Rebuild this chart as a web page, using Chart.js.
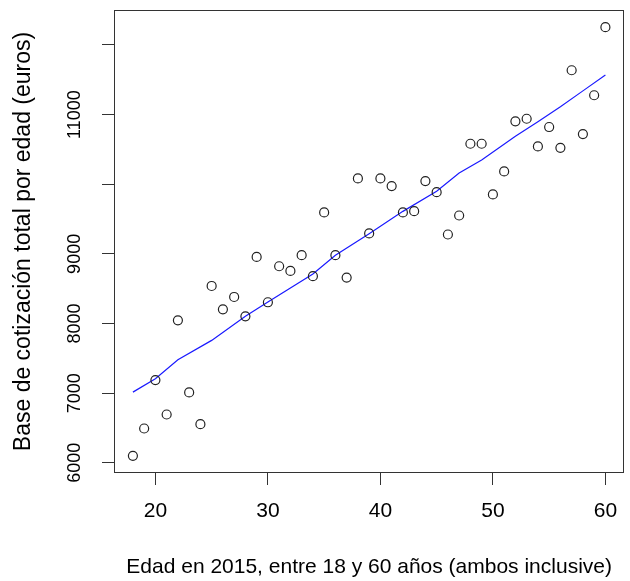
<!DOCTYPE html>
<html>
<head>
<meta charset="utf-8">
<script src="https://cdn.jsdelivr.net/npm/chart.js@4/dist/chart.umd.min.js"></script>
<style>
  html, body { margin: 0; padding: 0; background: #fff; }
  #wrap { width: 630px; height: 581px; }
</style>
</head>
<body>
<div id="wrap"><canvas id="chart"></canvas></div>
<script>
// edades y base de cotización
const ages = [18,19,20,21,22,23,24,25,26,27,28,29,30,31,32,33,34,35,36,37,38,39,
  40,41,42,43,44,45,46,47,48,49,50,51,52,53,54,55,56,57,58,59,60];
const bases = [6100,6493,7188,6694,8046,7011,6555,8539,8204,8381,8104,8956,8305,8822,8755,8981,8679,9595,8981,8660,10083,9293,
  10083,9973,9595,9613,10045,9886,9278,9551,10581,10581,9853,10184,10903,10940,10543,10821,10523,11636,10720,11277,12255];

// curva ajustada (azul)
const fitAges = [18,20,22,25,28,30,34,36,39,42,45,47,49,52,54,56,58,60];
const fitVals = [7015,7208,7480,7758,8104,8309,8710,8981,9290,9610,9900,10160,10347,10690,10897,11113,11340,11569];

const xTicks = [20,30,40,50,60];
const yTicks = [6000,7000,8000,9000,10000,11000,12000];
const yTickLabels = ['6000','7000','8000','9000','','11000',''];

const xTitle = 'Edad en 2015, entre 18 y 60 años (ambos inclusive)';
const yTitle = 'Base de cotización total por edad (euros)';

const FONT = "'Liberation Sans', Arial, sans-serif";

const boxPlugin = {
  id: 'box',
  afterDraw(chart){
    const a = chart.chartArea, ctx = chart.ctx;
    ctx.save();
    ctx.strokeStyle = '#333';
    ctx.lineWidth = 1;
    ctx.strokeRect(Math.round(a.left)+0.5, Math.round(a.top)+0.5,
      Math.round(a.right-a.left)-1, Math.round(a.bottom-a.top)-1);
    ctx.restore();
  }
};

new Chart(document.getElementById('chart'), {
  type: 'scatter',
  data: {
    datasets: [
      {
        type: 'scatter',
        data: ages.map((a,i)=>({x:a, y:bases[i]})),
        pointStyle: 'circle',
        pointRadius: 4.5,
        pointBorderWidth: 1.2,
        pointBorderColor: '#222',
        pointBackgroundColor: 'rgba(0,0,0,0)',
        order: 1
      },
      {
        type: 'line',
        data: fitAges.map((a,i)=>({x:a, y:fitVals[i]})),
        borderColor: '#1a1aff',
        borderWidth: 1.2,
        pointRadius: 0,
        tension: 0,
        fill: false,
        order: 2
      }
    ]
  },
  options: {
    responsive: true,
    maintainAspectRatio: false,
    animation: false,
    layout: { padding: { top: 10, right: 2, left: 0, bottom: 0 } },
    plugins: { legend: { display: false }, tooltip: { enabled: false } },
    scales: {
      x: {
        type: 'linear',
        min: 16.32, max: 61.68,
        afterBuildTicks: s => { s.ticks = xTicks.map(v=>({value:v})); },
        afterFit: s => { s.height = 108; s.paddingLeft = 0; s.paddingRight = 0; },
        border: { display: false },
        grid: { drawOnChartArea: false, drawTicks: true, tickLength: 12, color: '#333', lineWidth: 1 },
        ticks: { color: '#000', font: { family: FONT, size: 21 }, padding: 14, maxRotation: 0 },
        title: { display: true, text: xTitle, color: '#000', font: { family: FONT, size: 21 }, padding: { top: 0, bottom: 1 } }
      },
      y: {
        type: 'linear',
        min: 5854, max: 12501,
        afterBuildTicks: s => { s.ticks = yTicks.map(v=>({value:v})); },
        afterFit: s => { s.width = 114; s.paddingTop = 0; s.paddingBottom = 0; },
        border: { display: false },
        grid: { drawOnChartArea: false, drawTicks: true, tickLength: 12, color: '#333', lineWidth: 1 },
        ticks: {
          color: '#000', font: { family: FONT, size: 18 },
          minRotation: 90, maxRotation: 90, crossAlign: 'center', padding: 3,
          callback: (v, i) => yTickLabels[i]
        },
        title: { display: true, text: yTitle, color: '#000', font: { family: FONT, size: 23 }, padding: { top: 10, bottom: 0 } }
      }
    }
  },
  plugins: [boxPlugin]
});
</script>
</body>
</html>
